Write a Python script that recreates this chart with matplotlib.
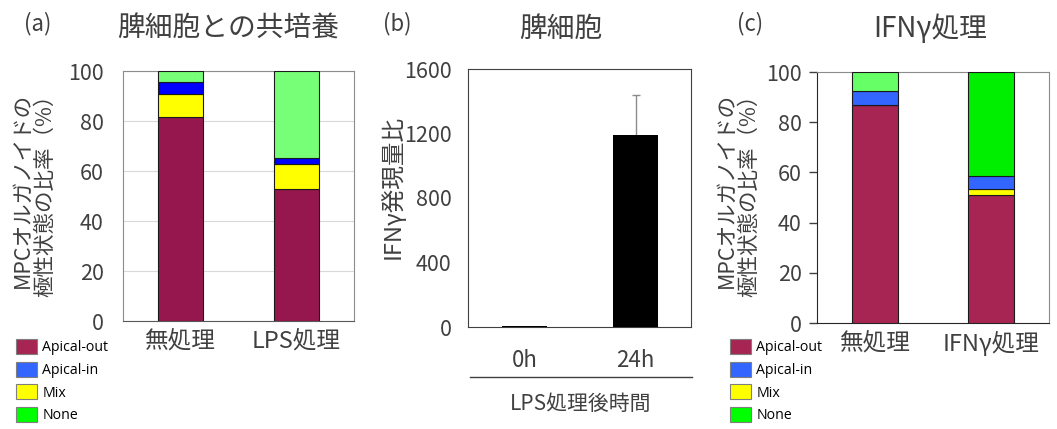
import matplotlib
matplotlib.use("Agg")
import matplotlib.pyplot as plt
from matplotlib.patches import Patch
import numpy as np

plt.rcParams['font.family'] = ['Noto Sans CJK JP', 'DejaVu Sans']

# ---- data ----
series = ["Apical-out", "Apical-in", "Mix", "None"]
cats_a = ["無処理", "LPS処理"]
a_out = [81.8, 52.9]
a_in = [4.8, 2.6]
a_mix = [9.2, 9.9]
a_none = [4.2, 34.6]

cats_b = ["0h", "24h"]
b_vals = [5, 1188]
b_err_low = [0, 8]
b_err_up = [0, 252]
b_ticks = [0, 400, 800, 1200, 1600]

cats_c = ["無処理", "IFNγ処理"]
c_out = [87.0, 50.9]
c_in = [5.6, 5.0]
c_mix = [0.0, 2.5]
c_none = [7.4, 41.6]

pct_ticks = [0, 20, 40, 60, 80, 100]

# ---- style ----
TXT = '#404040'
col_a = {"Apical-out": "#95174E", "Apical-in": "#0000FF", "Mix": "#FFFF00", "None": "#77FF77"}
col_c = {"Apical-out": "#A72552", "Apical-in": "#3366FF", "Mix": "#FFFF00"}
col_c_none = ["#66FF66", "#00EE00"]
leg_cols = ["#A72552", "#3366FF", "#FFFF00", "#00FF00"]

W, H = 1057, 429
fig = plt.figure(figsize=(W / 100, H / 100), dpi=100)

def fx(px):
    return px / W

def fy(py):
    return 1 - py / H

def stacked(ax, cats, layers, colors, width):
    x = np.arange(len(cats))
    bottom = np.zeros(len(cats))
    for vals, col in zip(layers, colors):
        vals = np.asarray(vals, float)
        ax.bar(x, vals, width, bottom=bottom, color=col, edgecolor='#1a1a1a',
               linewidth=0.8, zorder=3)
        bottom += vals
    ax.set_xticks(x)
    ax.set_xticklabels(cats, fontsize=17, color=TXT)
    ax.set_xlim(-0.5, 1.5)
    ax.set_ylim(0, 100)
    ax.set_yticks(pct_ticks)
    ax.tick_params(axis='y', labelsize=15.5, labelcolor=TXT)
    ax.tick_params(axis='x', length=0, pad=6)

# ---- panel (a) ----
axa = fig.add_axes([fx(123), fy(321), fx(231), (321 - 71) / H])
stacked(axa, cats_a, [a_out, a_mix, a_in, a_none],
        [col_a["Apical-out"], col_a["Mix"], col_a["Apical-in"], col_a["None"]], 0.39)
axa.yaxis.grid(True, color='#d9d9d9', linewidth=0.8, zorder=0)
axa.tick_params(axis='y', length=0, pad=14)
for s in axa.spines.values():
    s.set_color('#8c8c8c')
axa.spines['bottom'].set_color('#595959')

# ---- panel (b) ----
axb = fig.add_axes([fx(468), fy(327), fx(223), (327 - 69) / H])
xb = np.arange(len(cats_b))
axb.bar(xb, b_vals, 0.41, color='black', zorder=3)
axb.errorbar(xb[1:], b_vals[1:], yerr=[b_err_low[1:], b_err_up[1:]], fmt='none',
             ecolor='#8c8c8c', elinewidth=1, capsize=3, zorder=2)
axb.set_xlim(-0.51, 1.5)
axb.set_ylim(0, 1600)
axb.set_yticks(b_ticks)
axb.set_xticks(xb)
axb.set_xticklabels(cats_b, fontsize=16, color=TXT)
axb.tick_params(axis='y', labelsize=15.5, labelcolor=TXT, length=0, pad=12)
axb.tick_params(axis='x', length=0, pad=16)
for s in axb.spines.values():
    s.set_color('#404040')
fig.add_artist(plt.Line2D([fx(470), fx(692)], [fy(377), fy(377)], color='#404040', linewidth=1))
fig.text(fx(581), fy(404), "LPS処理後時間", fontsize=15, color=TXT, ha='center', va='center')

# ---- panel (c) ----
axc = fig.add_axes([fx(817), fy(323), fx(232), (323 - 72) / H])
stacked(axc, cats_c, [c_out, c_mix, c_in],
        [col_c["Apical-out"], col_c["Mix"], col_c["Apical-in"]], 0.4)
xc = np.arange(len(cats_c))
base = np.array(c_out) + np.array(c_mix) + np.array(c_in)
axc.bar(xc, c_none, 0.4, bottom=base, color=col_c_none, edgecolor='#1a1a1a', linewidth=0.8, zorder=3)
axc.tick_params(axis='y', length=6, width=1, color='#404040', pad=5, direction='out')
for k in ['top', 'right']:
    axc.spines[k].set_color('#8c8c8c')
for k in ['left', 'bottom']:
    axc.spines[k].set_color('#262626')

# ---- titles & labels ----
fig.text(fx(38), fy(24), "(a)", fontsize=16, color=TXT, ha='center', va='center')
fig.text(fx(228), fy(29), "脾細胞との共培養", fontsize=20, color=TXT, ha='center', va='center')
fig.text(fx(397), fy(24), "(b)", fontsize=16, color=TXT, ha='center', va='center')
fig.text(fx(561), fy(29), "脾細胞", fontsize=20, color=TXT, ha='center', va='center')
fig.text(fx(750), fy(24), "(c)", fontsize=16, color=TXT, ha='center', va='center')
fig.text(fx(930), fy(29), "IFNγ処理", fontsize=20, color=TXT, ha='center', va='center')

ylab = "MPCオルガノイドの\n極性状態の比率（%）"
fig.text(fx(34), fy(190), ylab, fontsize=15.5, color=TXT, rotation=90, ha='center', va='center',
         linespacing=1.05)
fig.text(fx(738), fy(190), ylab, fontsize=15.5, color=TXT, rotation=90, ha='center', va='center',
         linespacing=1.05)
fig.text(fx(392), fy(187), "IFNγ発現量比", fontsize=17, color=TXT, rotation=90, ha='center', va='center')

# ---- legends ----
handles = [Patch(facecolor=c, edgecolor='#7f7f7f', linewidth=0.8) for c in leg_cols]
for x0 in (16, 730):
    fig.legend(handles, series, loc='upper left', bbox_to_anchor=(fx(x0), fy(339)),
               frameon=False, handlelength=1.45, handleheight=1.25,
               labelspacing=0.45, handletextpad=0.4, borderpad=0.0, borderaxespad=0.0,
               prop={'family': ['Open Sans'], 'size': 10.2})

fig.savefig("out.png", dpi=100)
